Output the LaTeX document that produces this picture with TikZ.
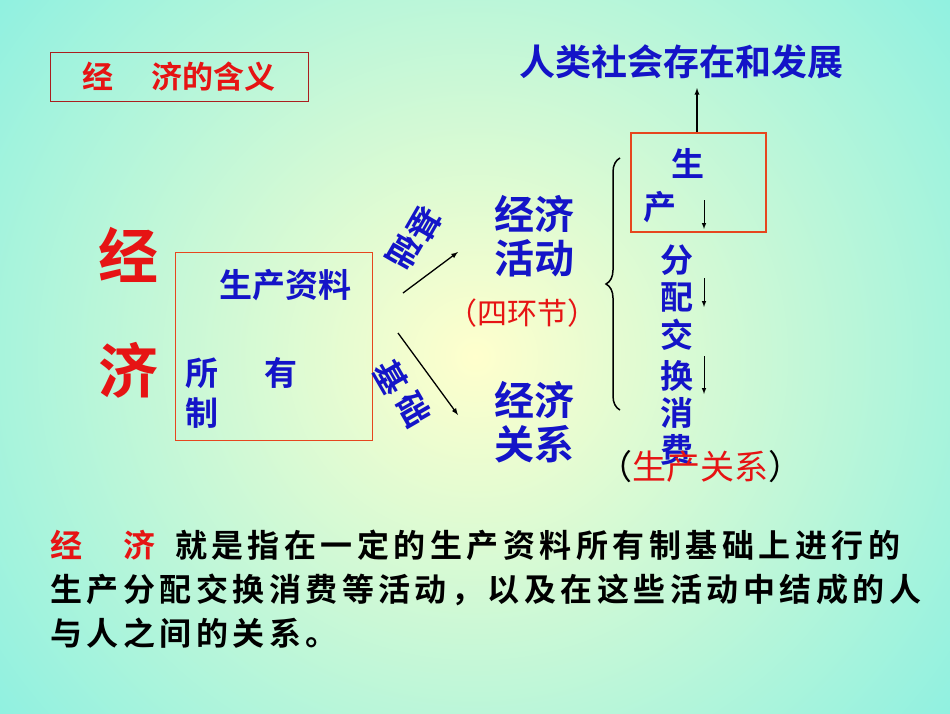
\documentclass[tikz,border=0pt]{standalone}
\usepackage{fontspec}
\setmainfont{Noto Sans CJK SC}[BoldFont={Noto Sans CJK SC Bold}]
\newfontfamily\cjksp{Noto Sans CJK SC}[BoldFont={Noto Sans CJK SC Bold},LetterSpace=14]
\usetikzlibrary{decorations.pathreplacing}
\definecolor{tblue}{RGB}{20,20,200}
\definecolor{tred}{RGB}{230,20,20}
\definecolor{bred}{RGB}{230,70,30}
\begin{document}
\begin{tikzpicture}[x=1pt,y=-1pt,
  bl/.style={text=tblue,font=\bfseries\fontsize{36}{38}\selectfont,inner sep=0pt},
  bm/.style={text=tblue,font=\bfseries\fontsize{40}{44}\selectfont,inner sep=0pt},
  bc/.style={text=tblue,font=\bfseries\fontsize{33}{35}\selectfont,inner sep=0pt},
  ar/.style={-latex,line width=1.3pt},
  sar/.style={-latex,line width=1pt}]
\useasboundingbox (0,0) rectangle (950,713);
\shade[inner color={rgb,255:red,255;green,255;blue,205},outer color={rgb,255:red,140;green,240;blue,225}] (-150,-250) rectangle (1100,963);
% title box
\node[draw={rgb,255:red,170;green,30;blue,30},line width=0.8pt,minimum width=258pt,minimum height=49pt,inner sep=0pt] (title) at (179,77) {};
\node[text=tred,font=\bfseries\fontsize{31}{33}\selectfont] (tt) at (179,77) {经\hspace{1.2em}济的含义};
\node[bl] (top) at (681,62) {人类社会存在和发展};
% production box
\node[draw=bred,line width=2pt,minimum width=135pt,minimum height=99pt,inner sep=0pt] (pbox) at (698.5,182.5) {};
\draw[ar] (pbox.north -| 697,0) -- (697,88);
\node[bc] (s1) at (688,163) {生};
\node[bc] (s2) at (660,207) {产};
\node[bc] (f1) at (677,260) {分};
\node[bc] (f2) at (677,297) {配};
\node[bc] (j1) at (677,335) {交};
\node[bc] (j2) at (677,376) {换};
\node[bc] (x1) at (677,413) {消};
\node[bc] (x2) at (677,450) {费};
\coordinate (a1) at (704,200); \coordinate (a1e) at (704,229);
\coordinate (a2) at (704,278); \coordinate (a2e) at (704,307);
\coordinate (a3) at (704,356); \coordinate (a3e) at (704,394);
\draw[sar] (a1) -- (a1e); \draw[sar] (a2) -- (a2e); \draw[sar] (a3) -- (a3e);
\node[font=\fontsize{34}{36}\selectfont,inner sep=0pt] (sc) at (700,467) {（\textcolor{tred}{生产关系}）};
% brace
\draw[line width=1.5pt,decorate,decoration={brace,amplitude=14pt,aspect=0.5}] (620,410) -- (620,158);
% big
\node[text=tred,font=\bfseries\fontsize{60}{62}\selectfont] (b1) at (128,255) {经};
\node[text=tred,font=\bfseries\fontsize{60}{62}\selectfont] (b2) at (128,370) {济};
% left box
\node[draw=bred,line width=0.8pt,minimum width=197pt,minimum height=188pt,inner sep=0pt] (lbox) at (273.5,346) {};
\node[bc] (scz) at (285,285) {生产资料};
\node[bc,anchor=west] (syz) at (185,373) {所\hspace{1.4em}有};
\node[bc,anchor=west] (zhi) at (185,413) {制};
% arrows
\coordinate (u0) at (403,293); \coordinate (u1) at (458,252);
\coordinate (d0) at (398,333); \coordinate (d1) at (458,415);
\draw[ar] (u0) -- (u1); \draw[ar] (d0) -- (d1);
\node[bc,rotate=-120] (jc1a) at (425,224) {基};
\node[bc,rotate=-120] (jc1b) at (404,252) {础};
\node[bc,rotate=-60] (jc2a) at (391,377) {基};
\node[bc,rotate=-60] (jc2b) at (414,410) {础};
% middle
\node[bm,align=center] (hd) at (534,236) {经济\\活动};
\node[text=tred,font=\fontsize{30}{32}\selectfont] (shj) at (522,313) {（四环节）};
\node[bm,align=center] (gx) at (534,422) {经济\\关系};
% paragraph
\node[anchor=west,inner sep=0pt,font=\bfseries\fontsize{32}{34}\selectfont] (p1) at (50,545) {\textcolor{tred}{经\hspace{1.3em}济}\hspace{0.6em}{\cjksp 就是指在一定的生产资料所有制基础上进行的}};
\node[anchor=west,inner sep=0pt,font=\bfseries\fontsize{32}{34}\selectfont] (p2) at (50,590) {\cjksp 生产分配交换消费等活动，以及在这些活动中结成的人};
\node[anchor=west,inner sep=0pt,font=\bfseries\fontsize{32}{34}\selectfont] (p3) at (50,633) {\cjksp 与人之间的关系。};
\end{tikzpicture}
\end{document}
